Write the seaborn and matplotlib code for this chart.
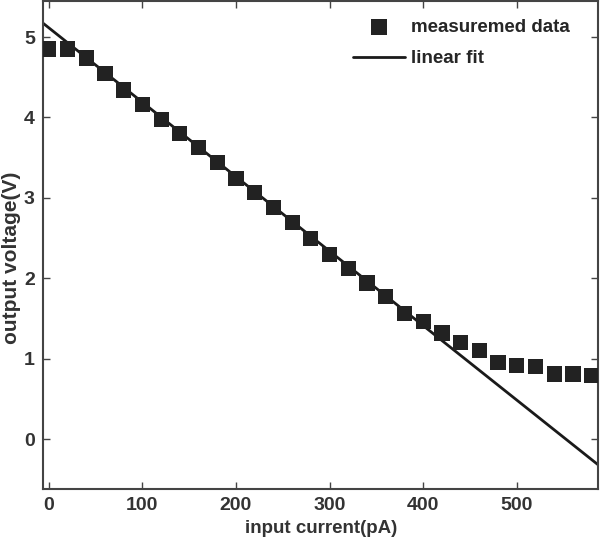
"""Output voltage vs input current: measured points and linear fit."""

import matplotlib
matplotlib.use("Agg")
import matplotlib.pyplot as plt
import seaborn as sns

sns.set_style("ticks")
plt.rcParams["font.family"] = ["Liberation Sans", "DejaVu Sans"]
plt.rcParams["font.weight"] = "bold"

# measured data (pA -> V)
current_pa = [0, 20, 40, 60, 80, 100, 120, 140, 160, 180, 200, 220, 240, 260,
              280, 300, 320, 340, 360, 380, 400, 420, 440, 460, 480, 500, 520,
              540, 560, 580]
voltage_v = [4.85, 4.85, 4.74, 4.55, 4.34, 4.16, 3.97, 3.80, 3.63, 3.44, 3.24,
             3.07, 2.88, 2.69, 2.49, 2.30, 2.12, 1.94, 1.77, 1.56, 1.46, 1.32,
             1.20, 1.10, 0.95, 0.92, 0.90, 0.81, 0.81, 0.79]

# linear fit endpoints
fit_x = [-6, 587]
fit_y = [5.17, -0.32]

x_ticks = [0, 100, 200, 300, 400, 500]
y_ticks = [0, 1, 2, 3, 4, 5]

fig = plt.figure(figsize=(6, 5.43), dpi=100)
ax = fig.add_axes([0.072, 0.0995, 0.925, 0.899])

sns.lineplot(x=fit_x, y=fit_y, ax=ax, color="#1a1a1a", linewidth=2,
             label="linear fit", zorder=2)
sns.scatterplot(x=current_pa, y=voltage_v, ax=ax, marker="s", s=120,
                color="#222222", edgecolor="none", label="measuremed data",
                zorder=3)

ax.set_xlim(-6, 587)
ax.set_ylim(-0.62, 5.45)
ax.set_xticks(x_ticks)
ax.set_yticks(y_ticks)
ax.tick_params(direction="in", top=True, right=True, length=5, width=1,
               color="#444444", labelsize=14, pad=6)
for lbl in ax.get_xticklabels() + ax.get_yticklabels():
    lbl.set_fontweight("bold")
    lbl.set_color("#333333")
for sp in ax.spines.values():
    sp.set_visible(True)
    sp.set_color("#444444")
    sp.set_linewidth(1.5)

ax.set_xlabel("input current(pA)", fontsize=13.5, fontweight="bold",
              color="#333333", labelpad=4)
ax.set_ylabel("output voltage(V)", fontsize=15, fontweight="bold",
              color="#333333", va="center", ha="center")
ax.yaxis.set_label_coords(-0.058, 0.474)

handles, labels = ax.get_legend_handles_labels()
order = [labels.index("measuremed data"), labels.index("linear fit")]
ax.legend([handles[i] for i in order], [labels[i] for i in order],
          loc="upper right", bbox_to_anchor=(0.972, 0.99), frameon=False,
          prop={"weight": "bold", "size": 13.5}, handlelength=2.8,
          handletextpad=0.3, borderaxespad=0.3, labelspacing=0.75)

fig.savefig("out.png", dpi=100)
plt.close(fig)
